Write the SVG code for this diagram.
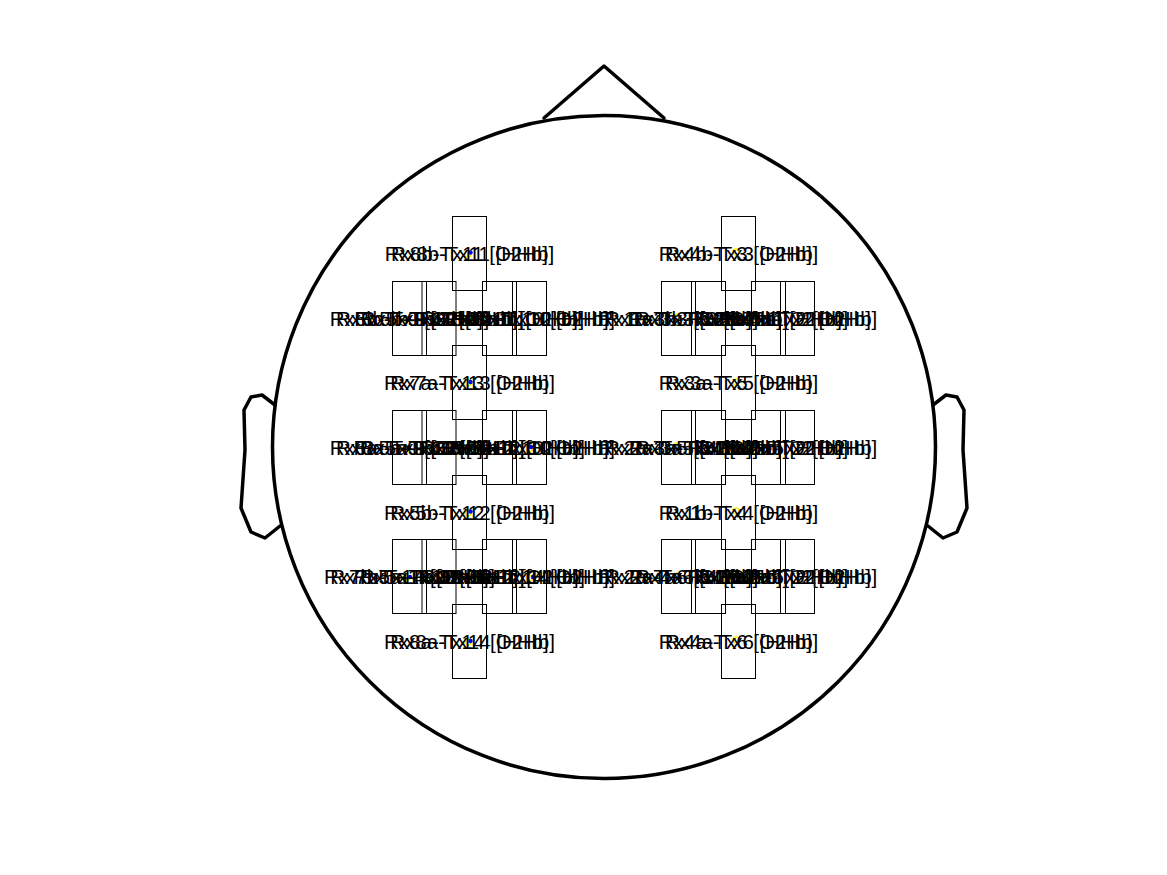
<svg xmlns="http://www.w3.org/2000/svg" width="1167" height="875" viewBox="0 0 1167 875">
<style>
.head{fill:none;stroke:#000;stroke-width:3.5;stroke-linejoin:round;stroke-linecap:round}
.box{fill:none;stroke:#000;stroke-width:1}
.lbl{font-family:"Liberation Sans",Arial,sans-serif;font-size:20.5px;fill:#000;text-anchor:middle}
.dotb{fill:#0000ff}
.doty{fill:none;stroke:#ffee00;stroke-width:1.5}
</style>
<rect width="1167" height="875" fill="#fff"/>
<g id="head">
<circle class="head" cx="604" cy="447" r="331.5"/>
<polyline class="head" points="544,118 604,66 664,118"/>
<polyline class="head" points="275,405 262,395 251,397 244,410 245,450 241,508 251,532 265,538 280,526"/>
<polyline class="head" points="933,405 946,395 957,397 964,410 963,450 967,508 957,532 943,538 928,526"/>
</g>
<g id="connectors"></g>
<g id="boxes">
<!-- left column -->
<rect class="box" x="452.5" y="216.5" width="34" height="74"/>
<rect class="box" x="452.5" y="345.5" width="34" height="74"/>
<rect class="box" x="452.5" y="475.5" width="34" height="74"/>
<rect class="box" x="452.5" y="604.5" width="34" height="74"/>
<!-- left rows -->
<rect class="box" x="392.5" y="281.5" width="34" height="74"/>
<rect class="box" x="422" y="281.5" width="34" height="74"/>
<rect class="box" x="482.5" y="281.5" width="34" height="74"/>
<rect class="box" x="512.5" y="281.5" width="34" height="74"/>
<rect class="box" x="392.5" y="410.5" width="34" height="74"/>
<rect class="box" x="422" y="410.5" width="34" height="74"/>
<rect class="box" x="482.5" y="410.5" width="34" height="74"/>
<rect class="box" x="512.5" y="410.5" width="34" height="74"/>
<rect class="box" x="392.5" y="539.5" width="34" height="74"/>
<rect class="box" x="422" y="539.5" width="34" height="74"/>
<rect class="box" x="482.5" y="539.5" width="34" height="74"/>
<rect class="box" x="512.5" y="539.5" width="34" height="74"/>
<!-- right column -->
<rect class="box" x="721.5" y="216.5" width="34" height="74"/>
<rect class="box" x="721.5" y="345.5" width="34" height="74"/>
<rect class="box" x="721.5" y="475.5" width="34" height="74"/>
<rect class="box" x="721.5" y="604.5" width="34" height="74"/>
<!-- right rows -->
<rect class="box" x="661.5" y="281.5" width="34" height="74"/>
<rect class="box" x="691.5" y="281.5" width="34" height="74"/>
<rect class="box" x="751.5" y="281.5" width="34" height="74"/>
<rect class="box" x="780.5" y="281.5" width="34" height="74"/>
<rect class="box" x="661.5" y="410.5" width="34" height="74"/>
<rect class="box" x="691.5" y="410.5" width="34" height="74"/>
<rect class="box" x="751.5" y="410.5" width="34" height="74"/>
<rect class="box" x="780.5" y="410.5" width="34" height="74"/>
<rect class="box" x="661.5" y="539.5" width="34" height="74"/>
<rect class="box" x="691.5" y="539.5" width="34" height="74"/>
<rect class="box" x="751.5" y="539.5" width="34" height="74"/>
<rect class="box" x="780.5" y="539.5" width="34" height="74"/>
</g>
<g id="markers">
<circle class="doty" cx="468" cy="254" r="3"/><circle class="dotb" cx="470.5" cy="252.5" r="2.2"/>
<circle class="doty" cx="468" cy="383" r="3"/><circle class="dotb" cx="470.5" cy="382" r="2.2"/>
<circle class="doty" cx="468" cy="513" r="3"/><circle class="dotb" cx="470.5" cy="511.5" r="2.2"/>
<circle class="doty" cx="468" cy="642" r="3"/><circle class="dotb" cx="470.5" cy="641" r="2.2"/>
<circle class="doty" cx="406" cy="320" r="3"/><circle class="dotb" cx="409" cy="318" r="2.2"/>
<circle class="doty" cx="436" cy="320" r="3"/><circle class="dotb" cx="438.5" cy="318.5" r="2.2"/>
<circle class="doty" cx="406" cy="449" r="3"/><circle class="dotb" cx="409" cy="447" r="2.2"/>
<circle class="doty" cx="529" cy="449" r="3"/><circle class="dotb" cx="531" cy="447" r="2.2"/>
<circle class="doty" cx="406" cy="578" r="3"/><circle class="dotb" cx="410" cy="577" r="2.2"/>
<circle class="doty" cx="529" cy="578" r="3"/><circle class="dotb" cx="533" cy="577" r="2.2"/>
<circle class="doty" cx="736" cy="252" r="3"/>
<circle class="doty" cx="736" cy="382" r="3"/>
<circle class="doty" cx="736" cy="511" r="3"/>
<circle class="doty" cx="736" cy="640" r="3"/>
<circle class="doty" cx="677" cy="317" r="3"/>
<circle class="doty" cx="677" cy="446" r="3"/>
<circle class="doty" cx="677" cy="576" r="3"/>
</g>
<g id="labels-left-column">
<g id="ch-Rx8b-Tx11"><text class="lbl" x="469.5" y="260.5">Rx8b-Tx11 [O2Hb]</text><text class="lbl" x="469.5" y="260.5">Rx8b-Tx11 [HHb]</text></g>
<g id="ch-Rx7a-Tx13"><text class="lbl" x="469.5" y="390">Rx7a-Tx13 [O2Hb]</text><text class="lbl" x="469.5" y="390">Rx7a-Tx13 [HHb]</text></g>
<g id="ch-Rx5b-Tx12"><text class="lbl" x="469.5" y="519.5">Rx5b-Tx12 [O2Hb]</text><text class="lbl" x="469.5" y="519.5">Rx5b-Tx12 [HHb]</text></g>
<g id="ch-Rx8a-Tx14"><text class="lbl" x="469.5" y="648.5">Rx8a-Tx14 [O2Hb]</text><text class="lbl" x="469.5" y="648.5">Rx8a-Tx14 [HHb]</text></g>
</g>
<g id="labels-left-rows">
<g id="ch-Rx6b-Tx9"><text class="lbl" x="409.5" y="325.5">Rx6b-Tx9 [O2Hb]</text><text class="lbl" x="409.5" y="325.5">Rx6b-Tx9 [HHb]</text></g>
<g id="ch-Rx5b-Tx11"><text class="lbl" x="439" y="325.5">Rx5b-Tx11 [O2Hb]</text><text class="lbl" x="439" y="325.5">Rx5b-Tx11 [HHb]</text></g>
<g id="ch-Rx7b-Tx11"><text class="lbl" x="499.5" y="325.5">Rx7b-Tx11 [O2Hb]</text><text class="lbl" x="499.5" y="325.5">Rx7b-Tx11 [HHb]</text></g>
<g id="ch-Rx8b-Tx10"><text class="lbl" x="529.5" y="325.5">Rx8b-Tx10 [O2Hb]</text><text class="lbl" x="529.5" y="325.5">Rx8b-Tx10 [HHb]</text></g>
<g id="ch-Rx6a-Tx9"><text class="lbl" x="409.5" y="454.5">Rx6a-Tx9 [O2Hb]</text><text class="lbl" x="409.5" y="454.5">Rx6a-Tx9 [HHb]</text></g>
<g id="ch-Rx5a-Tx13"><text class="lbl" x="439" y="454.5">Rx5a-Tx13 [O2Hb]</text><text class="lbl" x="439" y="454.5">Rx5a-Tx13 [HHb]</text></g>
<g id="ch-Rx7a-Tx12"><text class="lbl" x="499.5" y="454.5">Rx7a-Tx12 [O2Hb]</text><text class="lbl" x="499.5" y="454.5">Rx7a-Tx12 [HHb]</text></g>
<g id="ch-Rx6b-Tx10"><text class="lbl" x="529.5" y="454.5">Rx6b-Tx10 [O2Hb]</text><text class="lbl" x="529.5" y="454.5">Rx6b-Tx10 [HHb]</text></g>
<g id="ch-Rx7b-Tx14"><text class="lbl" x="409.5" y="583.5">Rx7b-Tx14 [O2Hb]</text><text class="lbl" x="409.5" y="583.5">Rx7b-Tx14 [HHb]</text></g>
<g id="ch-Rx5a-Tx12"><text class="lbl" x="439" y="583.5">Rx5a-Tx12 [O2Hb]</text><text class="lbl" x="439" y="583.5">Rx5a-Tx12 [HHb]</text></g>
<g id="ch-Rx8a-Tx12"><text class="lbl" x="499.5" y="583.5">Rx8a-Tx12 [O2Hb]</text><text class="lbl" x="499.5" y="583.5">Rx8a-Tx12 [HHb]</text></g>
<g id="ch-Rx6a-Tx14"><text class="lbl" x="529.5" y="583.5">Rx6a-Tx14 [O2Hb]</text><text class="lbl" x="529.5" y="583.5">Rx6a-Tx14 [HHb]</text></g>
</g>
<g id="labels-right-column">
<g id="ch-Rx4b-Tx3"><text class="lbl" x="738.5" y="260.5">Rx4b-Tx3 [O2Hb]</text><text class="lbl" x="738.5" y="260.5">Rx4b-Tx3 [HHb]</text></g>
<g id="ch-Rx3a-Tx5"><text class="lbl" x="738.5" y="390">Rx3a-Tx5 [O2Hb]</text><text class="lbl" x="738.5" y="390">Rx3a-Tx5 [HHb]</text></g>
<g id="ch-Rx1b-Tx4"><text class="lbl" x="738.5" y="519.5">Rx1b-Tx4 [O2Hb]</text><text class="lbl" x="738.5" y="519.5">Rx1b-Tx4 [HHb]</text></g>
<g id="ch-Rx4a-Tx6"><text class="lbl" x="738.5" y="648.5">Rx4a-Tx6 [O2Hb]</text><text class="lbl" x="738.5" y="648.5">Rx4a-Tx6 [HHb]</text></g>
</g>
<g id="labels-right-rows">
<g id="ch-Rx1a-Tx3"><text class="lbl" x="678.5" y="325.5">Rx1a-Tx3 [O2Hb]</text><text class="lbl" x="678.5" y="325.5">Rx1a-Tx3 [HHb]</text></g>
<g id="ch-Rx3b-Tx3"><text class="lbl" x="708.5" y="325.5">Rx3b-Tx3 [O2Hb]</text><text class="lbl" x="708.5" y="325.5">Rx3b-Tx3 [HHb]</text></g>
<g id="ch-Rx2b-Tx1"><text class="lbl" x="768.5" y="325.5">Rx2b-Tx1 [O2Hb]</text><text class="lbl" x="768.5" y="325.5">Rx2b-Tx1 [HHb]</text></g>
<g id="ch-Rx4b-Tx2"><text class="lbl" x="797.5" y="325.5">Rx4b-Tx2 [O2Hb]</text><text class="lbl" x="797.5" y="325.5">Rx4b-Tx2 [HHb]</text></g>
<g id="ch-Rx2a-Tx5"><text class="lbl" x="678.5" y="454.5">Rx2a-Tx5 [O2Hb]</text><text class="lbl" x="678.5" y="454.5">Rx2a-Tx5 [HHb]</text></g>
<g id="ch-Rx3a-Tx4"><text class="lbl" x="708.5" y="454.5">Rx3a-Tx4 [O2Hb]</text><text class="lbl" x="708.5" y="454.5">Rx3a-Tx4 [HHb]</text></g>
<g id="ch-Rx1b-Tx5"><text class="lbl" x="768.5" y="454.5">Rx1b-Tx5 [O2Hb]</text><text class="lbl" x="768.5" y="454.5">Rx1b-Tx5 [HHb]</text></g>
<g id="ch-Rx2b-Tx2"><text class="lbl" x="797.5" y="454.5">Rx2b-Tx2 [O2Hb]</text><text class="lbl" x="797.5" y="454.5">Rx2b-Tx2 [HHb]</text></g>
<g id="ch-Rx2a-Tx6"><text class="lbl" x="678.5" y="583.5">Rx2a-Tx6 [O2Hb]</text><text class="lbl" x="678.5" y="583.5">Rx2a-Tx6 [HHb]</text></g>
<g id="ch-Rx4a-Tx4"><text class="lbl" x="708.5" y="583.5">Rx4a-Tx4 [O2Hb]</text><text class="lbl" x="708.5" y="583.5">Rx4a-Tx4 [HHb]</text></g>
<g id="ch-Rx1a-Tx6"><text class="lbl" x="768.5" y="583.5">Rx1a-Tx6 [O2Hb]</text><text class="lbl" x="768.5" y="583.5">Rx1a-Tx6 [HHb]</text></g>
<g id="ch-Rx2a-Tx2"><text class="lbl" x="797.5" y="583.5">Rx2a-Tx2 [O2Hb]</text><text class="lbl" x="797.5" y="583.5">Rx2a-Tx2 [HHb]</text></g>
</g>
</svg>
